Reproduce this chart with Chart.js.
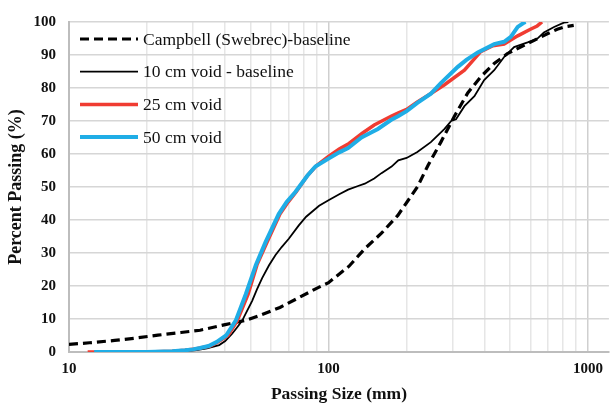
<!DOCTYPE html>
<html>
<head>
<meta charset="utf-8">
<script src="https://cdn.jsdelivr.net/npm/chart.js@4.4.1/dist/chart.umd.min.js"></script>
<style>
  html, body { margin: 0; padding: 0; background: #fff; }
  #wrap { width: 611px; height: 405px; }
</style>
</head>
<body>
<div id="wrap"><canvas id="psd-chart" width="611" height="405"></canvas></div>
<script>
// Fragment size distributions: passing size (mm) vs percent passing (%)
const campbellSize = [10, 12, 15, 18, 22, 27, 32, 40, 48, 54, 65, 77, 90, 100, 120, 138, 160, 185, 220, 242, 271, 306, 344, 386, 435, 489, 567, 637, 700, 761, 820, 881];
const campbellPass = [2.3, 2.8, 3.5, 4.2, 5.1, 5.9, 6.6, 8.3, 9.6, 11, 13.5, 16.5, 19.3, 21, 26, 31.3, 36, 41.4, 50, 56.6, 63.6, 71.5, 78.5, 83.4, 87.4, 90.4, 92.9, 94.9, 96.5, 97.8, 98.6, 99];

const void10Size = [12, 20, 25, 28, 31, 34, 37.9, 40, 42.6, 44.5, 46.5, 48.5, 50.8, 53, 55.5, 59, 62.5, 66, 70.3, 76.7, 82, 92, 100, 110, 119, 130, 138, 150, 160, 175, 185.8, 200, 220, 248, 280, 297, 310, 334, 365, 398, 435, 475, 519, 585, 637, 676, 740, 807, 840];
const void10Pass = [0, 0, 0.1, 0.3, 0.6, 1.1, 2.1, 3.3, 5.6, 7.5, 9.5, 12.4, 15.5, 19, 22.4, 26.3, 29.4, 31.8, 34.3, 38.3, 41, 44.3, 46, 47.8, 49.2, 50.3, 51, 52.6, 54.2, 56.2, 58.1, 58.8, 60.6, 63.6, 67.6, 70, 70.5, 74.5, 77.5, 82.4, 85.4, 89.4, 92.4, 93.8, 94.9, 96.8, 98.5, 99.8, 100];

const void25Size = [11.8, 15, 20, 25, 28, 30, 32, 35, 37.5, 41, 44.5, 49, 53, 58, 65, 70, 75, 83, 90, 100, 110, 120, 135, 150, 175, 186, 200, 220, 250, 280, 334, 386, 430, 475, 536, 600, 637, 665];
const void25Pass = [0, 0, 0, 0.2, 0.5, 0.8, 1.2, 1.8, 3, 5, 9.5, 17.5, 26.4, 33.3, 41.8, 45.5, 48.5, 53.5, 56.5, 59.3, 61.5, 63.2, 66.3, 68.8, 71.5, 72.5, 73.5, 75.8, 78.5, 81, 85.4, 91, 92.8, 93.3, 95.8, 97.8, 98.8, 100];

const void50Size = [12.5, 15, 20, 25, 28, 30, 32, 34.5, 37, 40.3, 43.9, 48, 52.5, 57.2, 64.3, 69, 74.5, 83, 89, 100, 110, 119, 134, 146, 155, 174, 186, 200, 220, 248, 271, 315, 340, 376, 435, 475, 504, 536, 567, 575];
const void50Pass = [0, 0, 0, 0.2, 0.5, 0.8, 1.2, 1.8, 3, 5, 9.5, 17.5, 26.4, 33.3, 41.8, 45.5, 48.5, 53.5, 56.2, 58.6, 60.5, 61.8, 65, 66.5, 67.6, 70.3, 71.5, 73, 75.5, 78.3, 81.5, 86.4, 88.5, 90.8, 93.3, 94, 95.5, 98.5, 99.8, 100];

const xTickValues = [10, 20, 30, 40, 50, 60, 70, 80, 90, 100, 200, 300, 400, 500, 600, 700, 800, 900, 1000];
const xLabelValues = [10, 100, 1000];

const toPoints = (xs, ys) => xs.map((x, i) => ({ x: x, y: ys[i] }));

// Legend drawn inside the plot area, lines on the left, labels to the right
const insideLegend = {
    id: 'insideLegend',
    afterDraw(chart) {
        const { ctx, chartArea } = chart;
        ctx.save();
        ctx.font = '17.5px "Liberation Serif"';
        ctx.textBaseline = 'middle';
        ctx.textAlign = 'left';
        chart.data.datasets.forEach((ds, i) => {
            const y = chartArea.top + 17 + i * 32.7;
            const x0 = chartArea.left + 11;
            ctx.beginPath();
            ctx.setLineDash(ds.borderDash || []);
            ctx.lineWidth = ds.borderWidth;
            ctx.strokeStyle = ds.borderColor;
            ctx.moveTo(x0, y);
            ctx.lineTo(x0 + 58, y);
            ctx.stroke();
            ctx.setLineDash([]);
            ctx.fillStyle = '#111';
            ctx.fillText(ds.label, x0 + 63, y + 1);
        });
        ctx.restore();
    }
};

Chart.defaults.font.family = '"Liberation Serif", "Times New Roman", serif';
Chart.defaults.color = '#111';

const ctx = document.getElementById('psd-chart').getContext('2d');
new Chart(ctx, {
    type: 'line',
    data: {
        datasets: [
            {
                label: 'Campbell (Swebrec)-baseline',
                data: toPoints(campbellSize, campbellPass),
                borderColor: '#000',
                borderWidth: 3.2,
                borderDash: [9, 5],
                order: 3
            },
            {
                label: '10 cm void - baseline',
                data: toPoints(void10Size, void10Pass),
                borderColor: '#000',
                borderWidth: 1.8,
                order: 2
            },
            {
                label: '25 cm void',
                data: toPoints(void25Size, void25Pass),
                borderColor: '#f03c32',
                borderWidth: 3.5,
                order: 1
            },
            {
                label: '50 cm void',
                data: toPoints(void50Size, void50Pass),
                borderColor: '#1fade6',
                borderWidth: 4,
                order: 0
            }
        ]
    },
    options: {
        responsive: false,
        animation: false,
        layout: { padding: { top: 16, right: 0, left: 0, bottom: 0 } },
        elements: {
            point: { radius: 0 },
            line: { tension: 0, fill: false }
        },
        plugins: {
            legend: { display: false },
            tooltip: { enabled: false }
        },
        scales: {
            x: {
                type: 'logarithmic',
                min: 10,
                max: 1204,
                afterBuildTicks: (scale) => {
                    scale.ticks = xTickValues.map(v => ({ value: v }));
                },
                afterFit: (scale) => { scale.height = 53; },
                ticks: {
                    autoSkip: false,
                    maxRotation: 0,
                    padding: 8,
                    font: { size: 15, weight: 'bold' },
                    callback: (value) => xLabelValues.includes(value) ? String(value) : ''
                },
                grid: {
                    drawTicks: false,
                    lineWidth: 1.5,
                    color: (c) => (c.tick && xLabelValues.includes(c.tick.value)) ? '#cfcfcf' : '#e6e6e6'
                },
                border: { color: '#bdbdbd', width: 2 },
                title: {
                    display: true,
                    text: 'Passing Size (mm)',
                    font: { size: 17.5, weight: 'bold' },
                    padding: { top: 4, bottom: 0 }
                }
            },
            y: {
                min: 0,
                max: 100,
                afterFit: (scale) => { scale.width = 69; },
                ticks: {
                    stepSize: 10,
                    padding: 13,
                    font: { size: 15, weight: 'bold' }
                },
                grid: {
                    drawTicks: false,
                    lineWidth: 1.5,
                    color: '#d6d6d6'
                },
                border: { color: '#bdbdbd', width: 2 },
                title: {
                    display: true,
                    text: 'Percent Passing (%)',
                    font: { size: 18, weight: 'bold' },
                    padding: { top: 6, bottom: 0 }
                }
            }
        }
    },
    plugins: [insideLegend]
});
</script>
</body>
</html>
